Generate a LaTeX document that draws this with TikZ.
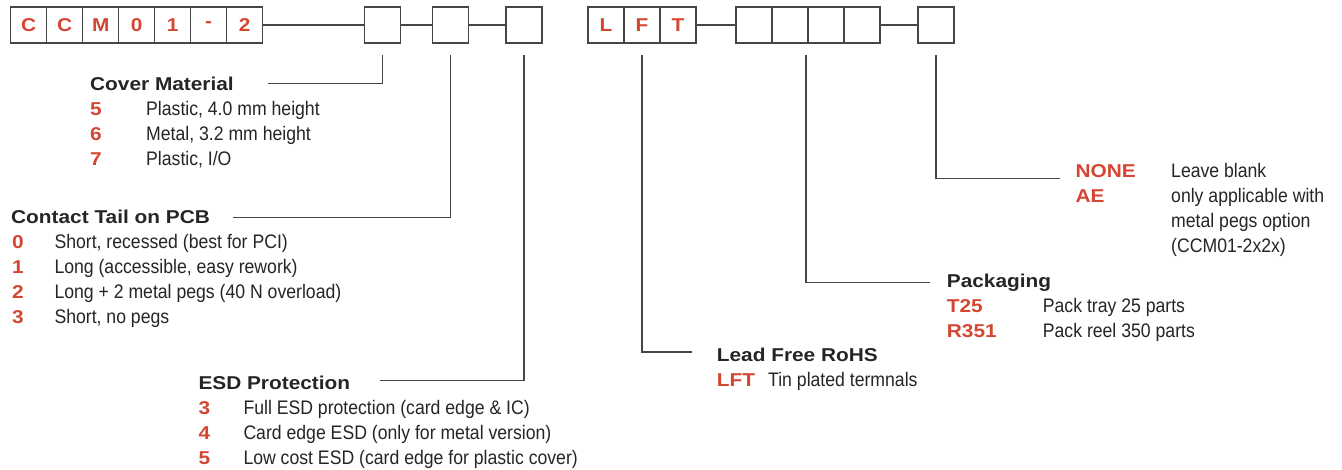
\documentclass[tikz,border=0pt]{standalone}
\usepackage{fontspec}
\setmainfont{Liberation Sans}
\newfontfamily\headfont[FakeStretch=1.12]{Liberation Sans}
\newfontfamily\bodyfont[FakeStretch=0.9]{Liberation Sans}
\usetikzlibrary{positioning}

\definecolor{codered}{RGB}{212,70,50}
\definecolor{inkgray}{RGB}{38,36,36}
\definecolor{rulegray}{RGB}{70,70,70}

\begin{document}
\begin{tikzpicture}[
    x=1pt, y=-1pt,
    cell/.style={
      draw=rulegray, line width=1.4pt, minimum size=36pt,
      inner sep=0pt, outer sep=0pt, text=codered,
      font={\headfont\bfseries\fontsize{18.6}{22}\selectfont}
    },
    title/.style={
      anchor=base west, inner sep=0pt, text=inkgray,
      font={\headfont\bfseries\fontsize{18.6}{22}\selectfont}
    },
    code/.style={
      anchor=base west, inner sep=0pt, text=codered,
      font={\headfont\bfseries\fontsize{18.6}{22}\selectfont}
    },
    desc/.style={
      anchor=base west, inner sep=0pt, text=inkgray,
      font={\bodyfont\fontsize{19.6}{22}\selectfont}
    },
    conn/.style={
      draw=rulegray, line width=1.3pt
    }
    ]
  \useasboundingbox (0,0) rectangle (1342,469);

  % part number boxes
  \node[cell] (p1) at (28.7,25) {C};
  \node[cell, right=0pt of p1] (p2) {C};
  \node[cell, right=0pt of p2] (p3) {M};
  \node[cell, right=0pt of p3] (p4) {0};
  \node[cell, right=0pt of p4] (p5) {1};
  \node[cell, right=0pt of p5] (p6) {-};
  \node[cell, right=0pt of p6] (p7) {2};
  \node[cell] (o1) at (382.5,25) {};
  \node[cell] (o2) at (450.5,25) {};
  \node[cell] (o3) at (524,25) {};
  \node[cell] (l1) at (606,25) {L};
  \node[cell, right=0pt of l1] (l2) {F};
  \node[cell, right=0pt of l2] (l3) {T};
  \node[cell] (k1) at (754,25) {};
  \node[cell, right=0pt of k1] (k2) {};
  \node[cell, right=0pt of k2] (k3) {};
  \node[cell, right=0pt of k3] (k4) {};
  \node[cell] (e1) at (936,25) {};

  \draw[conn] (p7.east) -- (o1.west);
  \draw[conn] (o1.east) -- (o2.west);
  \draw[conn] (o2.east) -- (o3.west);
  \draw[conn] (l3.east) -- (k1.west);
  \draw[conn] (k4.east) -- (e1.west);

  % cover material
  \node[title] (tcov) at (90,90.7) {Cover Material};
  \node[code] (m5) at (90,115.5) {5};
  \node[desc] (m5d) at (146,115.5) {Plastic, 4.0 mm height};
  \node[code] (m6) at (90,140.5) {6};
  \node[desc] (m6d) at (146,140.5) {Metal, 3.2 mm height};
  \node[code] (m7) at (90,165.5) {7};
  \node[desc] (m7d) at (146,165.5) {Plastic, I/O};

  % contact tail
  \node[title] (ttail) at (11,223.3) {Contact Tail on PCB};
  \node[code] (t0) at (12,248.3) {0};
  \node[desc] (t0d) at (54.3,248.3) {Short, recessed (best for PCI)};
  \node[code] (t1) at (12,273.3) {1};
  \node[desc] (t1d) at (54.3,273.3) {Long (accessible, easy rework)};
  \node[code] (t2) at (12,298.3) {2};
  \node[desc] (t2d) at (54.3,298.3) {Long + 2 metal pegs (40 N overload)};
  \node[code] (t3) at (12,323.3) {3};
  \node[desc] (t3d) at (54.3,323.3) {Short, no pegs};

  % esd
  \node[title] (tesd) at (198.3,389.5) {ESD Protection};
  \node[code] (s3) at (198.3,414.5) {3};
  \node[desc] (s3d) at (243.3,414.5) {Full ESD protection (card edge \& IC)};
  \node[code] (s4) at (198.3,439.5) {4};
  \node[desc] (s4d) at (243.3,439.5) {Card edge ESD (only for metal version)};
  \node[code] (s5) at (198.3,464.5) {5};
  \node[desc] (s5d) at (243.3,464.5) {Low cost ESD (card edge for plastic cover)};

  % lead free
  \node[title] (tlead) at (716.7,361.7) {Lead Free RoHS};
  \node[code] (lft) at (716.7,386.7) {LFT};
  \node[desc] (lftd) at (768,386.7) {Tin plated termnals};

  % packaging
  \node[title] (tpack) at (946.7,287.7) {Packaging};
  \node[code] (t25) at (946.7,312.7) {T25};
  \node[desc] (t25d) at (1042.7,312.7) {Pack tray 25 parts};
  \node[code] (r351) at (946.7,337.7) {R351};
  \node[desc] (r351d) at (1042.7,337.7) {Pack reel 350 parts};

  % extra option
  \node[code] (none) at (1075.3,177.5) {NONE};
  \node[desc] (noned) at (1171,177.5) {Leave blank};
  \node[code] (ae) at (1075.3,202.5) {AE};
  \node[desc] (aed1) at (1171,202.5) {only applicable with};
  \node[desc] (aed2) at (1171,227.5) {metal pegs option};
  \node[desc] (aed3) at (1171,252.5) {(CCM01-2x2x)};

  % leader lines
  \coordinate (covend) at (268,83.3);
  \coordinate (tailend) at (232.7,217.7);
  \coordinate (esdend) at (380,380.7);
  \coordinate (leadend) at (691.7,352);
  \coordinate (packend) at (930,282.7);
  \coordinate (extend) at (1060,178.3);
  \draw[conn] ([yshift=-12pt]o1.south) |- (covend);
  \draw[conn] ([yshift=-12pt]o2.south) |- (tailend);
  \draw[conn] ([yshift=-12pt]o3.south) |- (esdend);
  \draw[conn] ([yshift=-12pt]l2.south) |- (leadend);
  \draw[conn] ([xshift=-2pt,yshift=-12pt]k2.south east) |- (packend);
  \draw[conn] ([yshift=-12pt]e1.south) |- (extend);
\end{tikzpicture}
\end{document}
